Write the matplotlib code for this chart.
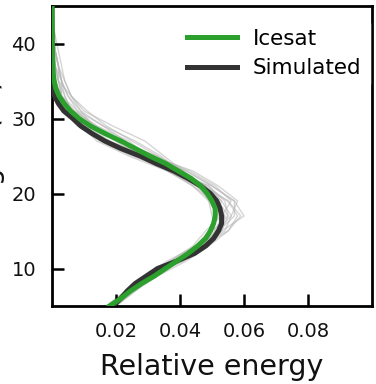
import matplotlib
matplotlib.use("Agg")
import matplotlib.pyplot as plt

# ---- data ----
icesat_h = [5, 6, 7, 8, 9, 10, 11, 12, 13, 14, 15, 16, 17, 18, 19, 20, 21, 22, 23, 24,
            25, 26, 27, 28, 29, 30, 31, 32, 33, 34, 35, 36, 38, 40, 45]
icesat_v = [0.018, 0.0215, 0.0245, 0.0280, 0.0320, 0.0355, 0.0390, 0.0425, 0.0455, 0.0480,
            0.0495, 0.0505, 0.0510, 0.0510, 0.0500, 0.0485, 0.0465, 0.0435, 0.0395, 0.0355,
            0.0305, 0.0260, 0.0215, 0.0165, 0.0120, 0.0085, 0.0058, 0.0038, 0.0022, 0.0012,
            0.0007, 0.0004, 0.0002, 0.0001, 0.0]

sim_h = [5, 6, 7, 8, 9, 10, 11, 12, 13, 14, 15, 16, 17, 18, 19, 20, 21, 22, 23, 24,
         25, 26, 27, 28, 29, 30, 31, 32, 33, 34, 45]
sim_v = [0.019, 0.0215, 0.0235, 0.026, 0.0295, 0.033, 0.039, 0.0445, 0.048, 0.0505,
         0.052, 0.053, 0.053, 0.0525, 0.0515, 0.0495, 0.0465, 0.0425, 0.038, 0.0325,
         0.0275, 0.0215, 0.0165, 0.0125, 0.009, 0.0065, 0.0037, 0.002, 0.0008, 0.0, 0.0]

runs_h = [5, 7, 9, 11, 13, 15, 17, 19, 21, 23, 25, 27, 29, 31, 33, 35, 37, 39, 41, 43, 45]
run_01 = [0.018, 0.024, 0.032, 0.040, 0.048, 0.053, 0.055, 0.052, 0.047, 0.040, 0.031, 0.021, 0.012, 0.006, 0.003, 0.002, 0.001, 0.0, 0.0, 0.0, 0.0]
run_02 = [0.020, 0.025, 0.031, 0.041, 0.049, 0.055, 0.058, 0.055, 0.048, 0.038, 0.027, 0.017, 0.010, 0.005, 0.002, 0.001, 0.001, 0.0005, 0.0, 0.0, 0.0]
run_03 = [0.017, 0.023, 0.030, 0.037, 0.045, 0.049, 0.051, 0.050, 0.045, 0.040, 0.034, 0.026, 0.016, 0.008, 0.005, 0.003, 0.002, 0.001, 0.0, 0.0, 0.0]
run_04 = [0.019, 0.025, 0.030, 0.038, 0.047, 0.053, 0.060, 0.057, 0.050, 0.042, 0.030, 0.018, 0.011, 0.004, 0.001, 0.0, 0.0, 0.0, 0.0, 0.0, 0.0]
run_05 = [0.020, 0.026, 0.033, 0.042, 0.049, 0.051, 0.050, 0.049, 0.046, 0.041, 0.035, 0.029, 0.019, 0.010, 0.006, 0.004, 0.003, 0.002, 0.001, 0.0, 0.0]
run_06 = [0.018, 0.023, 0.029, 0.036, 0.045, 0.052, 0.057, 0.057, 0.050, 0.042, 0.032, 0.022, 0.013, 0.008, 0.003, 0.001, 0.0, 0.0, 0.0, 0.0, 0.0]
run_07 = [0.019, 0.024, 0.031, 0.040, 0.046, 0.049, 0.051, 0.053, 0.049, 0.038, 0.025, 0.015, 0.009, 0.005, 0.002, 0.001, 0.0, 0.0, 0.0, 0.0, 0.0]
run_08 = [0.019, 0.025, 0.032, 0.038, 0.047, 0.055, 0.059, 0.055, 0.047, 0.039, 0.028, 0.023, 0.016, 0.009, 0.005, 0.003, 0.002, 0.001, 0.0005, 0.0, 0.0]
run_09 = [0.017, 0.023, 0.030, 0.037, 0.044, 0.048, 0.053, 0.051, 0.046, 0.040, 0.033, 0.020, 0.012, 0.006, 0.004, 0.003, 0.001, 0.0, 0.0, 0.0, 0.0]
run_10 = [0.019, 0.025, 0.031, 0.041, 0.048, 0.053, 0.054, 0.050, 0.044, 0.036, 0.030, 0.024, 0.014, 0.007, 0.002, 0.001, 0.0005, 0.0, 0.0, 0.0, 0.0]
run_11 = [0.018, 0.023, 0.030, 0.039, 0.047, 0.051, 0.056, 0.058, 0.052, 0.044, 0.031, 0.017, 0.010, 0.005, 0.003, 0.002, 0.001, 0.001, 0.0, 0.0, 0.0]
run_12 = [0.020, 0.025, 0.031, 0.038, 0.045, 0.050, 0.055, 0.054, 0.049, 0.039, 0.026, 0.020, 0.013, 0.009, 0.006, 0.004, 0.002, 0.001, 0.0, 0.0, 0.0]
run_13 = [0.018, 0.024, 0.032, 0.040, 0.046, 0.050, 0.052, 0.049, 0.044, 0.037, 0.028, 0.016, 0.008, 0.004, 0.003, 0.003, 0.002, 0.001, 0.001, 0.0, 0.0]
run_14 = [0.019, 0.024, 0.031, 0.039, 0.047, 0.054, 0.056, 0.053, 0.048, 0.041, 0.033, 0.025, 0.017, 0.011, 0.006, 0.002, 0.001, 0.0, 0.0, 0.0, 0.0]
run_15 = [0.018, 0.023, 0.029, 0.038, 0.046, 0.052, 0.054, 0.052, 0.045, 0.036, 0.024, 0.014, 0.009, 0.006, 0.004, 0.002, 0.002, 0.001, 0.0, 0.0, 0.0]
run_16 = [0.020, 0.026, 0.032, 0.040, 0.048, 0.051, 0.053, 0.056, 0.051, 0.043, 0.032, 0.022, 0.014, 0.007, 0.003, 0.001, 0.0, 0.0, 0.0, 0.0, 0.0]
runs = [run_01, run_02, run_03, run_04, run_05, run_06, run_07, run_08,
        run_09, run_10, run_11, run_12, run_13, run_14, run_15, run_16]

xticks = [0.02, 0.04, 0.06, 0.08]
xtick_labels = ["0.02", "0.04", "0.06", "0.08"]
yticks = [10, 20, 30, 40]

# ---- figure ----
fig = plt.figure(figsize=(3.76, 3.84), dpi=100)
ax = fig.add_axes([52/376, 1 - 306/384, 320/376, 300/384])

for r in runs:
    ax.plot(r, runs_h, color="#b4b4b4", lw=1.0, alpha=0.55, zorder=1)

ax.plot(sim_v, sim_h, color="#333333", lw=3.6, label="Simulated", zorder=3)
ax.plot(icesat_v, icesat_h, color="#2ca02c", lw=3.6, label="Icesat", zorder=4)

ax.set_xlim(0, 0.1)
ax.set_ylim(5, 45)
ax.set_xticks(xticks)
ax.set_xticklabels(xtick_labels)
ax.set_yticks(yticks)

for s in ax.spines.values():
    s.set_linewidth(2.0)
    s.set_color("black")

ax.tick_params(direction="in", length=8.6, width=1.8, labelsize=14, pad=11.5,
               color="black", labelcolor="#111111")

ax.set_xlabel("Relative energy", fontsize=20.5, labelpad=9, color="#111111")
ax.set_ylabel("Height (m)", fontsize=20.5, color="#111111")
ax.yaxis.set_label_coords((5 - 52) / 320, 0.5)

handles, labels = ax.get_legend_handles_labels()
order = [1, 0]
leg = ax.legend([handles[i] for i in order], [labels[i] for i in order],
                loc="upper right", fontsize=15.5, handlelength=2.3,
                handletextpad=0.75, labelspacing=0.45, frameon=True,
                framealpha=1.0, facecolor="white", edgecolor="white",
                bbox_to_anchor=(1.015, 0.975), borderaxespad=0.3)
leg.set_zorder(5)

fig.savefig("out.png", dpi=100)
